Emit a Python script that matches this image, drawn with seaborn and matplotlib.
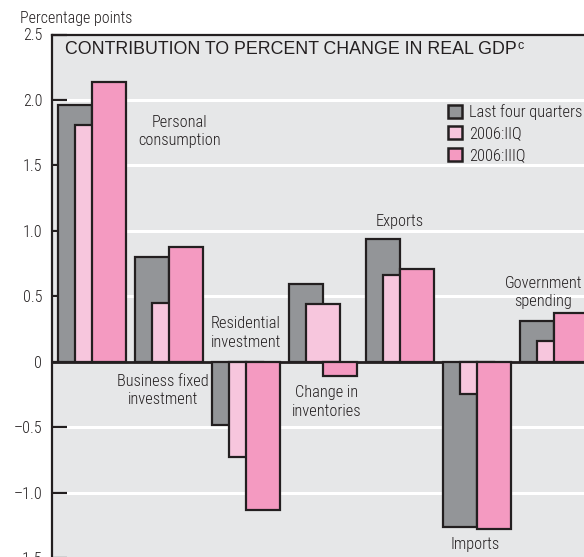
import matplotlib
matplotlib.use("Agg")
import matplotlib.pyplot as plt
from matplotlib.patches import Patch
import seaborn as sns

# Contribution to percent change in real GDP (percentage points)
categories = ["Personal\nconsumption", "Business fixed\ninvestment", "Residential\ninvestment",
              "Change in\ninventories", "Exports", "Imports", "Government\nspending"]
last_four_quarters = [1.96, 0.80, -0.48, 0.59, 0.94, -1.26, 0.31]
q2_2006 = [1.81, 0.45, -0.73, 0.44, 0.66, -0.25, 0.16]
q3_2006 = [2.14, 0.88, -1.13, -0.11, 0.71, -1.28, 0.37]
series_names = ["Last four quarters", "2006:IIQ", "2006:IIIQ"]

y_ticks = [-1.5, -1.0, -0.5, 0, 0.5, 1.0, 1.5, 2.0, 2.5]
y_tick_labels = ["\u20131.5", "\u20131.0", "\u20130.5", "0", "0.5", "1.0", "1.5", "2.0", "2.5"]

colors = ["#939598", "#f7c6dd", "#f49ac1"]
edge = "#231f20"
bg = "#e6e7e8"

sns.set_theme(style="white")
plt.rcParams['font.family'] = ['Roboto Condensed', 'DejaVu Sans']
plt.rcParams['font.weight'] = 'light'

fig = plt.figure(figsize=(5.84, 5.57), dpi=100)
ax = fig.add_axes([52 / 584, -1 / 557, 532 / 584, 523.5 / 557])
ax.set_facecolor(bg)

# white gridlines behind bars
for t in y_ticks:
    if t not in (0, 2.5, -1.5):
        ax.axhline(t, color="white", lw=2.2, zorder=0)

# overlapping bars: grey, then light pink, then dark pink on top
offsets = [-0.22, 0.0, 0.22]
series = [last_four_quarters, q2_2006, q3_2006]
n = len(categories)
for off, vals, col in zip(offsets, series, colors):
    sns.barplot(x=[i + off for i in range(n)], y=vals, native_scale=True, width=0.44,
                color=col, saturation=1, edgecolor=edge, linewidth=1.6,
                errorbar=None, ax=ax, zorder=2)

ax.axhline(0, color=edge, lw=2, zorder=1.5)

ax.set_xlim(-0.52, 6.39)
ax.set_ylim(-1.5, 2.5)
ax.set_xticks([])
ax.set_xlabel("")
ax.set_yticks(y_ticks)
ax.set_yticklabels(y_tick_labels, fontsize=11.5, color="#231f20")
ax.tick_params(axis="y", direction="in", length=11, width=1.6, color=edge, pad=7, left=True)

for side in ["left", "top"]:
    ax.spines[side].set_visible(True)
    ax.spines[side].set_color(edge)
    ax.spines[side].set_linewidth(1.6)
ax.spines["right"].set_visible(False)
ax.spines["bottom"].set_visible(False)

# category labels
label_pos = [(1.14, 1.76), (0.92, -0.22), (2.0, 0.22), (3.05, -0.31),
             (4.0, 1.07), (4.97, -1.40), (5.86, 0.53)]
for name, (lx, ly) in zip(categories, label_pos):
    ax.text(lx, ly, name, ha="center", va="center", fontsize=11.8,
            color="#231f20", linespacing=1.3, zorder=3)

# legend
handles = [Patch(facecolor=c, edgecolor=edge, linewidth=1.8) for c in colors]
leg = fig.legend(handles, series_names, loc="upper left",
                 bbox_to_anchor=(448 / 584, 1 - 104 / 557), frameon=False,
                 fontsize=11.8, handlelength=0.85, handleheight=0.85,
                 handletextpad=0.45, labelspacing=0.38, borderpad=0, borderaxespad=0)
for t in leg.get_texts():
    t.set_color("#231f20")

# title and axis caption
fig.text(65 / 584, 1 - 50 / 557, "CONTRIBUTION TO PERCENT CHANGE IN REAL GDP",
         fontsize=12.8, family="Liberation Sans", fontweight="normal",
         color="#231f20", va="center")
fig.text(517 / 584, 1 - 46 / 557, "c", fontsize=9, family="Liberation Sans",
         fontweight="normal", color="#231f20", va="center")
fig.text(20 / 584, 1 - 18 / 557, "Percentage points", fontsize=11.5,
         color="#231f20", va="center")

fig.savefig("out.png", dpi=100)
